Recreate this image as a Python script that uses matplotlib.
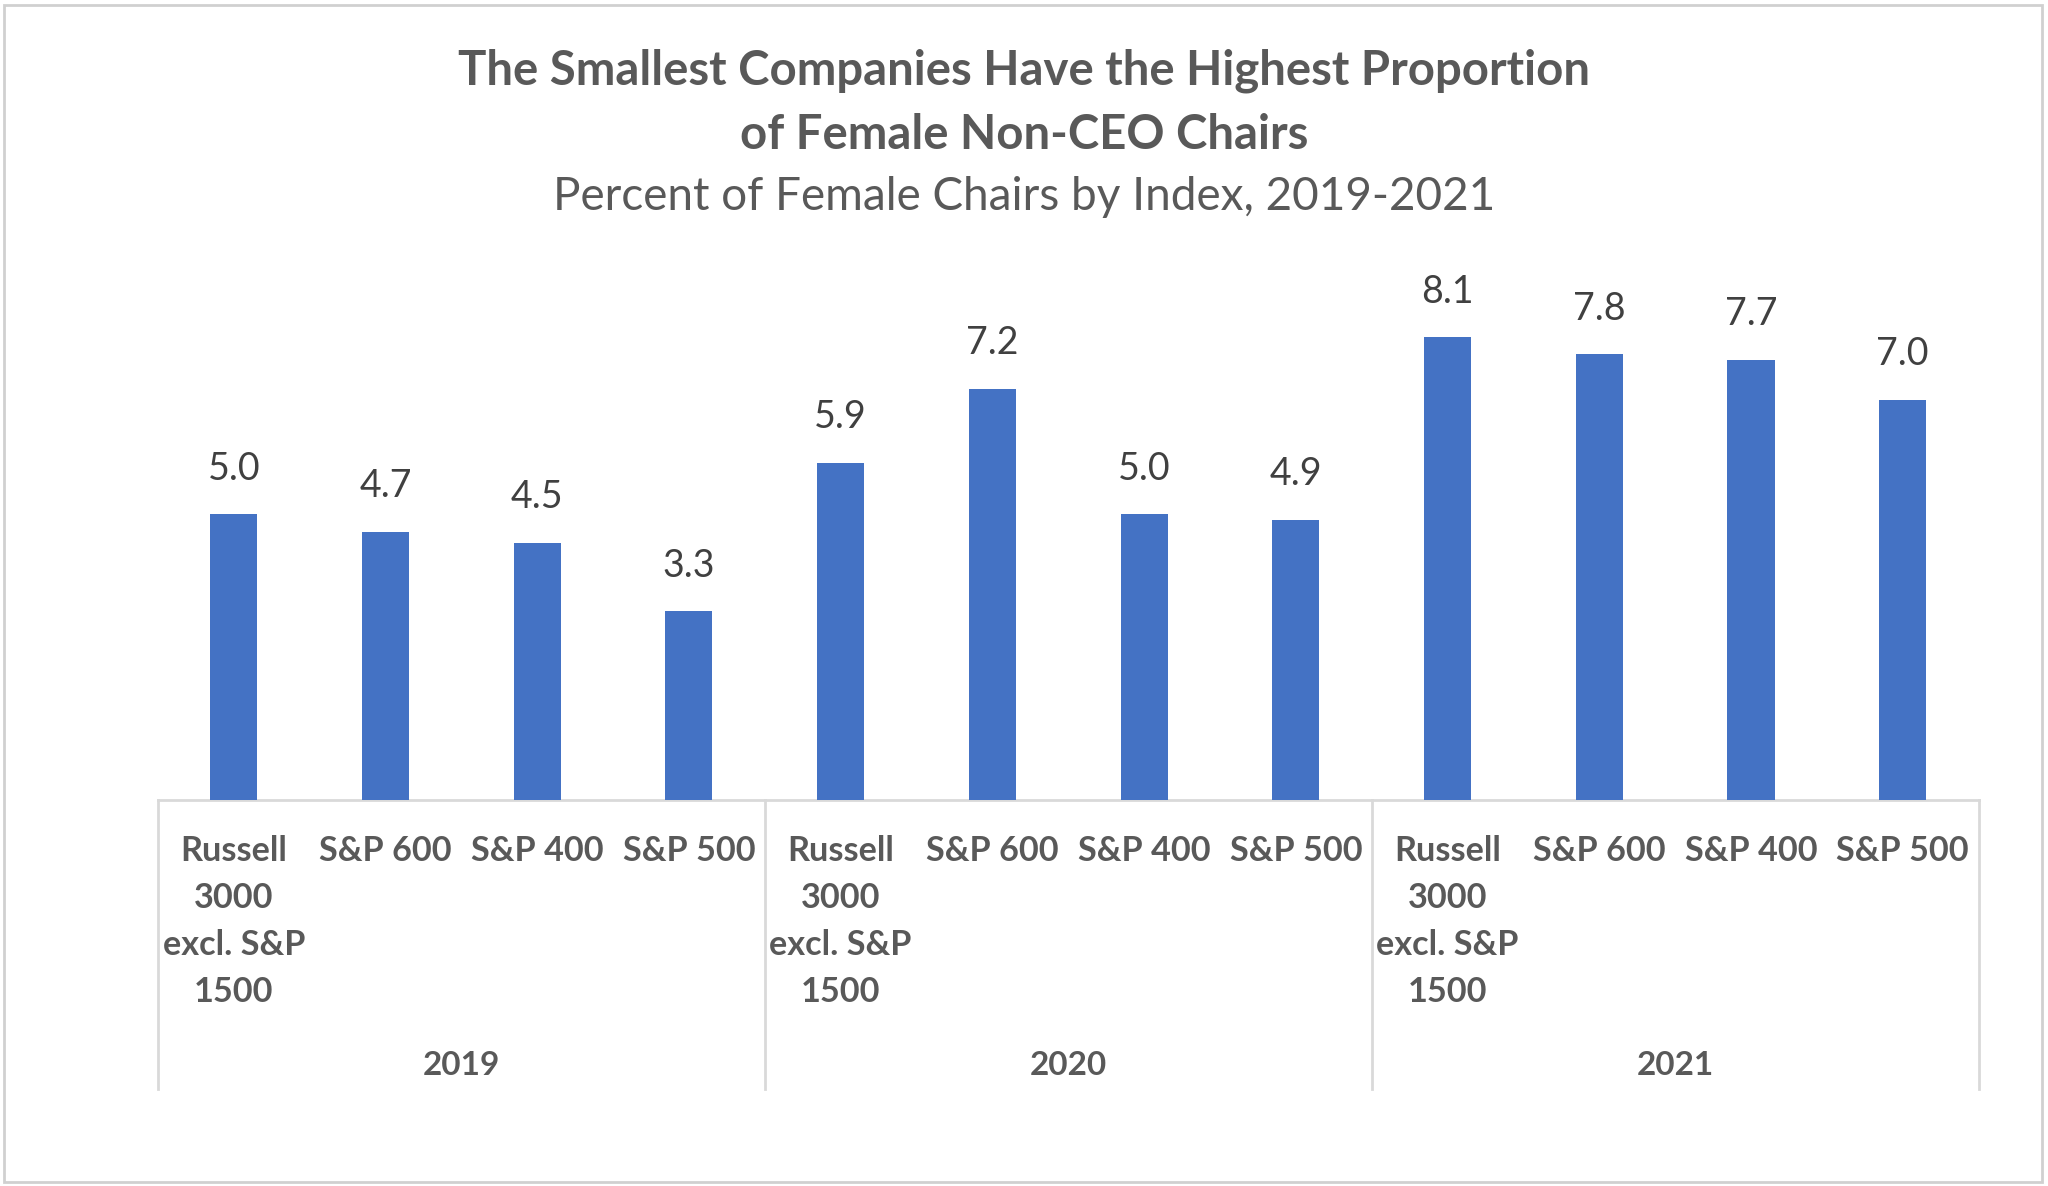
import matplotlib
matplotlib.use("Agg")
import matplotlib.pyplot as plt
from matplotlib.patches import Rectangle

years = ["2019", "2020", "2021"]
indexes = ["Russell\n3000\nexcl. S&P\n1500", "S&P 600", "S&P 400", "S&P 500"]
values_2019 = [5.0, 4.7, 4.5, 3.3]
values_2020 = [5.9, 7.2, 5.0, 4.9]
values_2021 = [8.1, 7.8, 7.7, 7.0]
series = [values_2019, values_2020, values_2021]

plt.rcParams['font.family'] = ['Lato', 'DejaVu Sans']
BAR = "#4472C4"
TXT = "#595959"
LBL = "#404040"
GRID = "#D9D9D9"

fig = plt.figure(figsize=(20.48, 11.86), dpi=100)
fig.patch.set_facecolor("white")
fig.add_artist(Rectangle((0.002, 0.003), 0.995, 0.993, transform=fig.transFigure,
                         fill=False, edgecolor="#D0D0D0", linewidth=2))

ax = fig.add_axes([0.0771, 0.3255, 0.8890, 0.4527])
vals = [v for s in series for v in s]
xs = list(range(len(vals)))
bars = ax.bar(xs, vals, width=0.31, color=BAR, zorder=3)
ax.set_xlim(-0.5, len(vals) - 0.5)
ax.set_ylim(0, 9.4)
for sp in ["top", "right", "left"]:
    ax.spines[sp].set_visible(False)
ax.spines["bottom"].set_color(GRID)
ax.spines["bottom"].set_linewidth(2)
ax.set_xticks([])
ax.set_yticks([])

for b, v in zip(bars, vals):
    ax.annotate(f"{v:.1f}", (b.get_x() + b.get_width() / 2, v), xytext=(0, 20),
                textcoords="offset points", ha="center", va="bottom",
                fontsize=27, color=LBL)

tr = ax.get_xaxis_transform()
n = len(indexes)
for i, x in enumerate(xs):
    ax.text(x, -0.066, indexes[i % n], transform=tr, ha="center", va="top",
            fontsize=24.7, fontweight="bold", color=TXT, linespacing=1.57)
for g, yr in enumerate(years):
    ax.text(g * n + (n - 1) / 2, -0.495, yr, transform=tr, ha="center", va="center",
            fontsize=24, fontweight="bold", color=TXT)
for g in range(len(years) + 1):
    ax.plot([g * n - 0.5, g * n - 0.5], [0, -0.538], transform=tr, color=GRID,
            linewidth=2, clip_on=False)

fig.text(0.5, 0.940, "The Smallest Companies Have the Highest Proportion",
         ha="center", va="center", fontsize=34, fontweight="bold", color=TXT)
fig.text(0.5, 0.886, "of Female Non-CEO Chairs",
         ha="center", va="center", fontsize=34, fontweight="bold", color=TXT)
fig.text(0.5, 0.834, "Percent of Female Chairs by Index, 2019-2021",
         ha="center", va="center", fontsize=33, color=TXT)

fig.savefig("out.png", dpi=100, facecolor="white")
